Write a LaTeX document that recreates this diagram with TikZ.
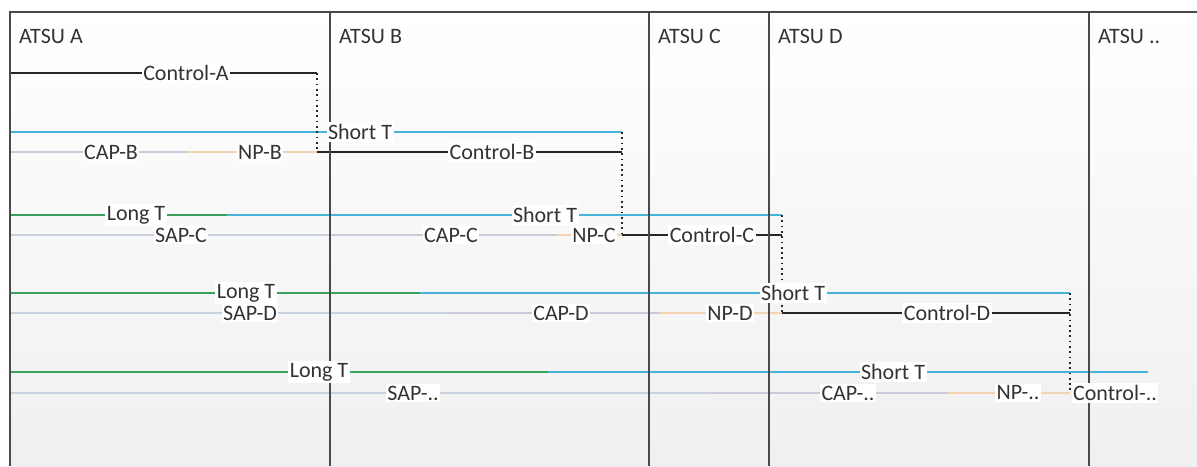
\documentclass[tikz,border=0pt]{standalone}
\usepackage{fontspec}
\setmainfont{Carlito}
\definecolor{txt}{HTML}{333333}
\definecolor{divc}{HTML}{4A4A4A}
\definecolor{cyanl}{HTML}{45B4D8}
\definecolor{greenl}{HTML}{3AA05C}
\definecolor{sapc}{HTML}{C6D2DE}
\definecolor{capc}{HTML}{CFC7DA}
\definecolor{npc}{HTML}{F4D3B2}
\begin{document}
\begin{tikzpicture}[x=1pt,y=-1pt,font=\fontsize{22}{26}\selectfont,
  lbl/.style={fill=white,inner xsep=1.5pt,inner ysep=2pt,text=txt},
  head/.style={anchor=base west,inner sep=0pt,text=txt},
  ctl/.style={draw=black!85,line width=1.4pt},
  shortline/.style={draw=cyanl,line width=2pt},
  longline/.style={draw=greenl,line width=2pt},
  sapline/.style={draw=sapc,line width=1.6pt},
  capline/.style={draw=capc,line width=1.6pt},
  npline/.style={draw=npc,line width=1.6pt},
  dotline/.style={draw=black!85,line width=1.7pt,dash pattern=on 1.7pt off 3.6pt},
  divline/.style={draw=divc,line width=1.8pt}]
\useasboundingbox (0,0) rectangle (1197,466);
\fill[white] (0,0) rectangle (1197,466);
\shade[top color=white,bottom color=black!6] (10,12) rectangle (1197,466);

% coordinates
\coordinate (f0) at (10,12); \coordinate (f1) at (1197,12); \coordinate (f2) at (10,466);
% row 1
\coordinate (r1a) at (10,73); \coordinate (r1b) at (317,73);
% row 2
\coordinate (r2a) at (10,132); \coordinate (r2b) at (622,132);
% row 3
\coordinate (r3a) at (10,152); \coordinate (r3b) at (187,152); \coordinate (r3c) at (317,152); \coordinate (r3d) at (622,152);
% row 4
\coordinate (r4a) at (10,215); \coordinate (r4b) at (227,215); \coordinate (r4c) at (782,215);
% row 5
\coordinate (r5a) at (10,235); \coordinate (r5b) at (330,235); \coordinate (r5c) at (557,235); \coordinate (r5d) at (622,235); \coordinate (r5e) at (782,235);
% row 6
\coordinate (r6a) at (10,293); \coordinate (r6b) at (420,293); \coordinate (r6c) at (1070,293);
% row 7
\coordinate (r7a) at (10,313); \coordinate (r7b) at (450,313); \coordinate (r7c) at (660,313); \coordinate (r7d) at (782,313); \coordinate (r7e) at (1070,313);
% row 8
\coordinate (r8a) at (10,372); \coordinate (r8b) at (548,372); \coordinate (r8c) at (1148,372);
% row 9
\coordinate (r9a) at (10,393); \coordinate (r9b) at (712,393); \coordinate (r9c) at (948,393); \coordinate (r9d) at (1070,393);

% lines
\draw[ctl] (r1a) -- (r1b);
\draw[shortline] (r2a) -- (r2b);
\draw[capline] (r3a) -- (r3b);
\draw[npline] (r3b) -- (r3c);
\draw[ctl] (r3c) -- (r3d);
\draw[longline] (r4a) -- (r4b);
\draw[shortline] (r4b) -- (r4c);
\draw[sapline] (r5a) -- (r5b);
\draw[capline] (r5b) -- (r5c);
\draw[npline] (r5c) -- (r5d);
\draw[ctl] (r5d) -- (r5e);
\draw[longline] (r6a) -- (r6b);
\draw[shortline] (r6b) -- (r6c);
\draw[sapline] (r7a) -- (r7b);
\draw[capline] (r7b) -- (r7c);
\draw[npline] (r7c) -- (r7d);
\draw[ctl] (r7d) -- (r7e);
\draw[longline] (r8a) -- (r8b);
\draw[shortline] (r8b) -- (r8c);
\draw[sapline] (r9a) -- (r9b);
\draw[capline] (r9b) -- (r9c);
\draw[npline] (r9c) -- (r9d);

% dotted handovers
\draw[dotline] (r1b) -- (r3c);
\draw[dotline] (r2b) -- (r5d);
\draw[dotline] (r4c) -- (r7d);
\draw[dotline] (r6c) -- (r9d);

% frame and dividers
\draw[divline] (f2) -- (f0) -- (f1);
\coordinate (d1t) at (330,12); \coordinate (d1b) at (330,466);
\coordinate (d2t) at (649,12); \coordinate (d2b) at (649,466);
\coordinate (d3t) at (769,12); \coordinate (d3b) at (769,466);
\coordinate (d4t) at (1089,12); \coordinate (d4b) at (1089,466);
\draw[divline] (d1t) -- (d1b);
\draw[divline] (d2t) -- (d2b);
\draw[divline] (d3t) -- (d3b);
\draw[divline] (d4t) -- (d4b);

% headers
\node[head] (hA) at (19,43) {ATSU A};
\node[head] (hB) at (339,43) {ATSU B};
\node[head] (hC) at (658,43) {ATSU C};
\node[head] (hD) at (778,43) {ATSU D};
\node[head] (hE) at (1098,43) {ATSU ..};

% labels
\node[lbl] (lCA) at (186,73) {Control-A};
\node[lbl] (lS2) at (360,132) {Short T};
\node[lbl] (lCAPB) at (111,152) {CAP-B};
\node[lbl] (lNPB) at (260,152) {NP-B};
\node[lbl] (lCB) at (492,152) {Control-B};
\node[lbl] (lL4) at (136,215) {Long T};
\node[lbl] (lS4) at (545,215) {Short T};
\node[lbl] (lSAPC) at (181,235) {SAP-C};
\node[lbl] (lCAPC) at (451,235) {CAP-C};
\node[lbl] (lNPC) at (594,235) {NP-C};
\node[lbl] (lCC) at (712,235) {Control-C};
\node[lbl] (lL6) at (246,293) {Long T};
\node[lbl] (lS6) at (793,293) {Short T};
\node[lbl] (lSAPD) at (250,313) {SAP-D};
\node[lbl] (lCAPD) at (561,313) {CAP-D};
\node[lbl] (lNPD) at (730,313) {NP-D};
\node[lbl] (lCD) at (947,313) {Control-D};
\node[lbl] (lL8) at (319,372) {Long T};
\node[lbl] (lS8) at (893,372) {Short T};
\node[lbl] (lSAPE) at (413,393) {SAP-..};
\node[lbl] (lCAPE) at (848,393) {CAP-..};
\node[lbl] (lNPE) at (1018,393) {NP-..};
\node[lbl] (lCE) at (1115,393) {Control-..};
\end{tikzpicture}
\end{document}
